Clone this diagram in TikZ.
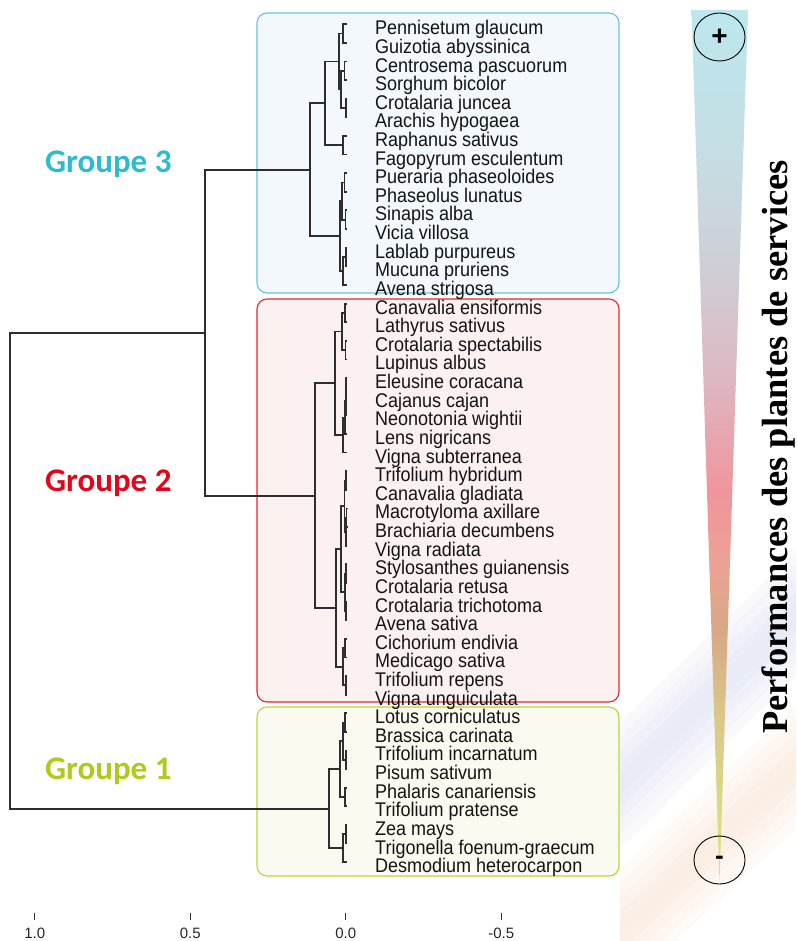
\documentclass[tikz,border=0pt]{standalone}
\usepackage{fontspec}
\setmainfont{Liberation Sans}
\newfontfamily\grpfont{Carlito}
\newfontfamily\perffont{Liberation Serif}
\usetikzlibrary{shapes.geometric}
\pgfdeclareverticalshading{perfshade}{100bp}{rgb(0bp)=(0.847,0.886,0.478); rgb(25bp)=(0.847,0.886,0.478); rgb(27.85bp)=(0.851,0.875,0.502); rgb(34.2bp)=(0.863,0.784,0.541); rgb(39.35bp)=(0.839,0.663,0.522); rgb(43.4bp)=(0.929,0.631,0.580); rgb(47.4bp)=(0.941,0.584,0.612); rgb(53.75bp)=(0.867,0.718,0.761); rgb(59.5bp)=(0.816,0.800,0.831); rgb(65.8bp)=(0.776,0.863,0.886); rgb(75bp)=(0.737,0.906,0.933); rgb(100bp)=(0.737,0.906,0.933)}
\definecolor{gthree}{HTML}{2DBBD0}
\definecolor{gtwo}{HTML}{E3061B}
\definecolor{gone}{HTML}{AECB1A}
\definecolor{bthree}{HTML}{62C6DA}
\definecolor{btwo}{HTML}{E5262C}
\definecolor{bone}{HTML}{B9D43A}
\definecolor{fthree}{HTML}{F2F8FB}
\definecolor{ftwo}{HTML}{FCF1F1}
\definecolor{fone}{HTML}{FAFAF1}
\definecolor{lav}{HTML}{DADFF0}
\definecolor{peach}{HTML}{FBE6D2}
\definecolor{dendro}{HTML}{2E2E2E}
\newcommand\djn[5]{\draw[dline] (#3,#2) -- (#1,#2) -- (#1,#4) -- (#5,#4);}
\begin{document}
\begin{tikzpicture}[x=1pt,y=-1pt,
  dline/.style={draw=dendro, line width=1.8pt, line join=miter},
  leaf/.style={font=\fontsize{18}{18}\selectfont, text=black!92, anchor=base west, inner sep=0pt},
  grp/.style={font=\grpfont\bfseries\fontsize{33}{33}\selectfont, anchor=base west, inner sep=0pt},
  gbox/.style={rounded corners=10pt, line width=1.1pt},
  axlab/.style={font=\fontsize{15}{15}\selectfont, text=black!85, anchor=base, inner sep=0pt},
  sign/.style={ellipse, draw=black, line width=0.9pt, minimum width=51pt, minimum height=48pt, inner sep=0pt}]
\useasboundingbox (0,0) rectangle (796,941);
\fill[white] (0,0) rectangle (796,941);
% faint background streaks on the right
\begin{scope}
\clip (620,500) rectangle (796,941);
\foreach \w in {90,70,50,30,14}{
  \draw[lav, line width=\w pt, opacity=0.16] (590,815) -- (840,570);
  \draw[peach, line width=\w pt, opacity=0.16] (590,960) -- (840,725);
}
\end{scope}
% group boxes
\draw[gbox, draw=bthree, fill=fthree] (257,13) rectangle (619,293);
\draw[gbox, draw=btwo, fill=ftwo] (257,299) rectangle (619,702);
\draw[gbox, draw=bone, fill=fone] (257,707) rectangle (619,876);
% leaf labels
\foreach \t [count=\i] in {Pennisetum glaucum, Guizotia abyssinica, Centrosema pascuorum, Sorghum bicolor, Crotalaria juncea, Arachis hypogaea, Raphanus sativus, Fagopyrum esculentum, Pueraria phaseoloides, Phaseolus lunatus, Sinapis alba, Vicia villosa, Lablab purpureus, Mucuna pruriens, Avena strigosa, Canavalia ensiformis, Lathyrus sativus, Crotalaria spectabilis, Lupinus albus, Eleusine coracana, Cajanus cajan, Neonotonia wightii, Lens nigricans, Vigna subterranea, Trifolium hybridum, Canavalia gladiata, Macrotyloma axillare, Brachiaria decumbens, Vigna radiata, Stylosanthes guianensis, Crotalaria retusa, Crotalaria trichotoma, Avena sativa, Cichorium endivia, Medicago sativa, Trifolium repens, Vigna unguiculata, Lotus corniculatus, Brassica carinata, Trifolium incarnatum, Pisum sativum, Phalaris canariensis, Trifolium pratense, Zea mays, Trigonella foenum-graecum, Desmodium heterocarpon}
  {\node[leaf] (leaf\i) at (375,{34.8+18.62*(\i-1)}) {\scalebox{1}[1.1]{\t}};}
% dendrogram: group 3
\djn{343.3}{24.3}{347}{42.9}{347}
\djn{344.5}{61.5}{347}{80.2}{347}
\djn{346}{98.8}{347}{117.4}{347}
\djn{341}{70.85}{344.5}{108.1}{346}
\djn{339.3}{33.6}{343.3}{89.5}{341}
\djn{343.3}{136.0}{347}{154.6}{347}
\djn{325}{61.55}{339.3}{145.3}{343.3}
\djn{344.5}{173.2}{347}{191.8}{347}
\djn{345.5}{210.4}{347}{229.0}{347}
\djn{342}{182.5}{344.5}{219.7}{345.5}
\djn{346}{247.7}{347}{266.3}{347}
\djn{343}{257.0}{346}{284.9}{347}
\djn{340}{201.1}{342}{270.95}{343}
\djn{309.7}{103.4}{325}{236.0}{340}
% group 2
\djn{345}{303.6}{347}{322.2}{347}
\djn{345.5}{340.8}{347}{359.5}{347}
\djn{341.7}{312.9}{345}{350.15}{345.5}
\djn{346.3}{378.1}{347}{396.7}{347}
\djn{345.8}{387.4}{346.3}{415.3}{347}
\djn{345}{401.35}{345.8}{433.9}{347}
\djn{343.3}{417.6}{345}{452.5}{347}
\djn{335}{331.5}{341.7}{435.05}{343.3}
\djn{346.3}{471.2}{347}{489.8}{347}
\djn{346.5}{508.4}{347}{527.0}{347}
\djn{345.8}{517.7}{346.5}{545.6}{347}
\djn{344.5}{480.5}{346.3}{531.65}{345.8}
\djn{346.3}{564.3}{347}{582.9}{347}
\djn{346}{601.5}{347}{620.1}{347}
\djn{345}{573.6}{346.3}{610.8}{346}
\djn{341}{506.1}{344.5}{592.2}{345}
\djn{345.2}{638.7}{347}{657.4}{347}
\djn{346.3}{676.0}{347}{694.6}{347}
\djn{342.7}{648.05}{345.2}{685.3}{346.3}
\djn{336}{549.15}{341}{666.7}{342.7}
\djn{315}{383.3}{335}{607.9}{336}
% group 1
\djn{345}{713.2}{347}{731.8}{347}
\djn{346.3}{750.4}{347}{769.1}{347}
\djn{343}{722.5}{345}{759.75}{346.3}
\djn{345}{787.7}{347}{806.3}{347}
\djn{340}{741.1}{343}{797.0}{345}
\djn{346.3}{824.9}{347}{843.5}{347}
\djn{343}{834.2}{346.3}{862.1}{347}
\djn{329}{769.05}{340}{848.15}{343}
% top levels
\djn{205}{169.7}{309.7}{495.6}{315}
\djn{10}{332.65}{205}{808.6}{329}
% group labels
\node[grp, text=gthree] (g3) at (45,173) {Groupe 3};
\node[grp, text=gtwo] (g2) at (45,491) {Groupe 2};
\node[grp, text=gone] (g1) at (45,779) {Groupe 1};
% axis
\foreach \xv/\lab [count=\k] in {34.7/1.0, 190.2/0.5, 345.7/0.0, 501.2/-0.5}{
  \draw[line width=1pt, black!80] (\xv,913) -- (\xv,919.5);
  \node[axlab] (ax\k) at (\xv,938.5) {\lab};
}
% performance gradient
\shade[shading=perfshade] (691.5,10) -- (748,10) -- (719.5,882) -- cycle;
\node[sign] (plus) at (719.5,37) {};
\node[font=\bfseries\fontsize{28}{28}\selectfont, inner sep=0pt] at (plus.center) {+};
\node[sign] (minus) at (719.5,860) {};
\node[font=\bfseries\fontsize{26}{26}\selectfont, inner sep=0pt] at (minus.center) {-};
\node[font=\perffont\bfseries\fontsize{36.5}{36.5}\selectfont, rotate=90, inner sep=0pt, text=black] (perf) at (778.5,447) {Performances des plantes de services};
\end{tikzpicture}
\end{document}
